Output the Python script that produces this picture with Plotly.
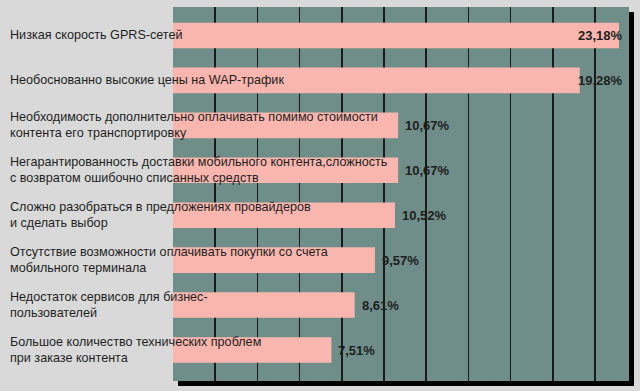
import plotly.graph_objects as go

# ---- data ----
categories = [
    "Низкая скорость GPRS-сетей",
    "Необоснованно высокие цены на WAP-трафик",
    "Необходимость дополнительно оплачивать помимо стоимости<br>контента его транспортировку",
    "Негарантированность доставки мобильного контента,сложность<br>с возвратом ошибочно списанных средств",
    "Сложно разобраться в предложениях провайдеров<br>и сделать выбор",
    "Отсутствие возможности оплачивать покупки со счета<br>мобильного терминала",
    "Недостаток сервисов для бизнес-<br>пользователей",
    "Большое количество технических проблем<br>при заказе контента",
]
values = [23.18, 19.28, 10.67, 10.67, 10.52, 9.57, 8.61, 7.51]
value_labels = [f"{v:.2f}".replace(".", ",") + "%" for v in values]

# ---- style ----
PAGE = "#d9d9d9"
TEAL = "#6f8e8a"
PINK = "#f8b6ae"
TEXT = "#1e1e1e"
FONT = "Liberation Sans, Arial, sans-serif"

W, H = 640, 391
ML, MR, MT, MB = 173, 11, 7, 10
plot_w = W - ML - MR
plot_h = H - MT - MB
dom_right = 446 / plot_w
x_max = 21.14
shadow = 5

fig = go.Figure()
fig.add_trace(go.Bar(
    x=values, y=categories, orientation="h",
    marker=dict(color=PINK, line=dict(width=0)),
    width=0.57, hoverinfo="skip", showlegend=False,
))

# background panel with shadow
fig.add_shape(type="rect", xref="paper", yref="paper", layer="below",
              x0=shadow / plot_w, x1=1 + shadow / plot_w,
              y0=-shadow / plot_h, y1=1 - shadow / plot_h,
              fillcolor="#000000", line=dict(width=0))
fig.add_shape(type="rect", xref="paper", yref="paper", layer="below",
              x0=0, x1=1, y0=0, y1=1,
              fillcolor=TEAL, line=dict(width=0))

# category labels
for c in categories:
    fig.add_annotation(x=(8 - ML) / plot_w, xref="paper", y=c, yref="y",
                       text=c, showarrow=False, xanchor="left", align="left",
                       font=dict(family=FONT, size=12.6, color=TEXT))

# value labels
for c, v, lab in zip(categories, values, value_labels):
    if v > 18:
        fig.add_annotation(x=(625 - ML) / plot_w, xref="paper", y=c, yref="y",
                           text=lab, showarrow=False, xanchor="right",
                           font=dict(family=FONT, size=13, color=TEXT, weight="bold"))
    else:
        fig.add_annotation(x=v, xref="x", y=c, yref="y", xshift=5,
                           text=lab, showarrow=False, xanchor="left",
                           font=dict(family=FONT, size=13, color=TEXT, weight="bold"))

fig.update_xaxes(range=[0, x_max], domain=[0, dom_right], dtick=2,
                 showgrid=True, gridcolor="#1a1a1a", gridwidth=1.5,
                 zeroline=False, showticklabels=False, showline=False, ticks="")
fig.update_yaxes(range=[7.69, -0.634], showgrid=False, zeroline=False,
                 showticklabels=False, showline=False, ticks="")

fig.update_layout(
    width=W, height=H,
    margin=dict(l=ML, r=MR, t=MT, b=MB, pad=0),
    paper_bgcolor=PAGE, plot_bgcolor="rgba(0,0,0,0)",
    font=dict(family=FONT, size=13, color=TEXT),
    bargap=0.43,
)

fig.write_html(
    "out.html",
    config={"displayModeBar": False, "staticPlot": True},
    post_script="document.body.style.margin='0';document.body.style.background='%s';" % PAGE,
)
